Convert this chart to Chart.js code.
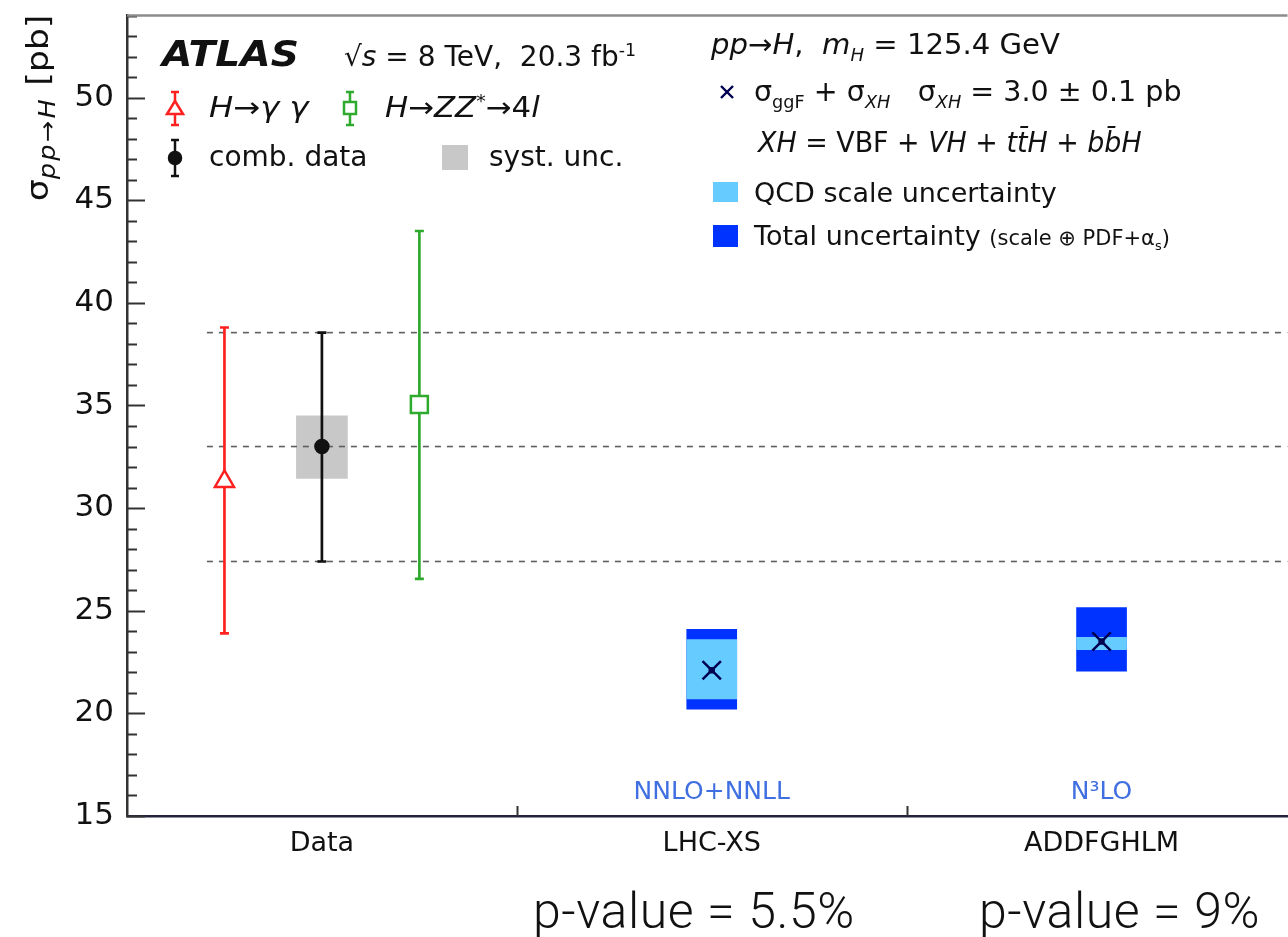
<!DOCTYPE html>
<html>
<head>
<meta charset="utf-8">
<script src="https://cdn.jsdelivr.net/npm/chart.js@4.4.1/dist/chart.umd.min.js"></script>
<style>
  html, body { margin: 0; padding: 0; background: #fff; overflow: hidden; }
  #wrap { position: relative; width: 1288px; height: 937px; overflow: hidden; }
  canvas { position: absolute; left: 0; top: 0; }
  .t { position: absolute; white-space: nowrap; font-family: 'DejaVu Sans', sans-serif; color: #111; line-height: 1; font-size: 28px; transform-origin: 0 50%; }
  .t sub, .t sup { font-size: 62%; line-height: 0; }
  .pv { position: absolute; white-space: nowrap; font-family: Roboto, 'Open Sans', sans-serif; font-weight: 300; font-size: 50px; letter-spacing: 0.6px; line-height: 1; color: #111; }
  #ytitle { position: absolute; left: 37px; top: 108px; transform: translate(-50%, -50%) rotate(-90deg) scaleX(1.12); transform-origin: 50% 50%; font-size: 31px; }
  #ytitle sub { font-size: 74%; letter-spacing: 2px; }
  svg { position: absolute; left: 0; top: 0; }
</style>
</head>
<body>
<div id="wrap">
  <!-- canvas a bit wider than the page: the plot is cut at the right edge, as in the figure -->
  <canvas id="chart" width="1303" height="937"></canvas>

  <!-- legend symbols -->
  <svg width="1288" height="270">
    <g stroke="#ff2020" stroke-width="2.5" fill="#fff">
      <line x1="175" y1="92" x2="175" y2="125"/>
      <line x1="171" y1="92" x2="179" y2="92"/><line x1="171" y1="125" x2="179" y2="125"/>
      <polygon points="175,101 183,114 167,114"/>
    </g>
    <g stroke="#2eaa2e" stroke-width="2.5" fill="#fff">
      <line x1="350" y1="92" x2="350" y2="125"/>
      <line x1="346" y1="92" x2="354" y2="92"/><line x1="346" y1="125" x2="354" y2="125"/>
      <rect x="344" y="102" width="12" height="12"/>
    </g>
    <g stroke="#111" stroke-width="2.5" fill="#111">
      <line x1="175" y1="140" x2="175" y2="176"/>
      <line x1="171" y1="140" x2="179" y2="140"/><line x1="171" y1="176" x2="179" y2="176"/>
      <circle cx="175" cy="158" r="6"/>
    </g>
    <rect x="442" y="145" width="26" height="25" fill="#c8c8c8"/>
    <g stroke="#000050" stroke-width="2.4">
      <line x1="721" y1="86" x2="733" y2="98"/><line x1="733" y1="86" x2="721" y2="98"/>
    </g>
    <rect x="713" y="182" width="25" height="20" fill="#66ccff"/>
    <rect x="713" y="225" width="25" height="22" fill="#0033ff"/>
  </svg>

  <div class="t" id="ytitle">σ<sub><i>pp</i>→<i>H</i></sub> [pb]</div>

  <div class="t" style="left:162px;top:37px;font-size:35px;font-weight:bold;font-style:italic;transform:scaleX(1.12);">ATLAS</div>
  <div class="t" style="left:344px;top:43px;font-size:28px;">√<i>s</i> = 8 TeV,&nbsp; 20.3 fb<sup>-1</sup></div>
  <div class="t" style="left:209px;top:94px;transform:scaleX(1.15);"><i>H</i>→<i>γ</i> <i>γ</i></div>
  <div class="t" style="left:385px;top:94px;transform:scaleX(1.1);"><i>H</i>→<i>ZZ</i><sup>*</sup>→4<i>l</i></div>
  <div class="t" style="left:209px;top:143px;">comb. data</div>
  <div class="t" style="left:489px;top:143px;">syst. unc.</div>

  <div class="t" style="left:711px;top:31px;transform:scaleX(1.04);"><i>pp</i>→<i>H</i>,&nbsp; <i>m<sub>H</sub></i> = 125.4 GeV</div>
  <div class="t" style="left:754px;top:78px;transform:scaleX(1.02);">σ<sub>ggF</sub> + σ<sub><i>XH</i></sub>&nbsp;&nbsp; σ<sub><i>XH</i></sub> = 3.0 ± 0.1 pb</div>
  <div class="t" style="left:758px;top:129px;transform:scaleX(0.96);"><i>XH</i> = VBF + <i>VH</i> + <i>tt̄H</i> + <i>bb̄H</i></div>
  <div class="t" style="left:754px;top:179px;font-size:27px;">QCD scale uncertainty</div>
  <div class="t" style="left:754px;top:222px;font-size:27px;">Total uncertainty <span style="font-size:21px">(scale ⊕ PDF+α<sub>s</sub>)</span></div>

  <div class="pv" style="left:533px;top:886px;">p-value = 5.5%</div>
  <div class="pv" style="left:979px;top:886px;">p-value = 9%</div>
</div>

<script>
// --- data (pb) ---
const categories = ['Data', 'LHC-XS', 'ADDFGHLM'];
const theoryNames = ['NNLO+NNLL', 'N³LO'];

// measurements inside the "Data" bin: H->yy, combined, H->ZZ*->4l
const measX = [0.25, 0.5, 0.75];
const measCentral = [31.3, 33.0, 35.05];
const measHigh = [38.8, 38.55, 43.5];
const measLow = [23.9, 27.4, 26.55];
const measColors = ['#ff2020', '#111111', '#2eaa2e'];
const systRange = [31.45, 34.5];

// predictions: sigma_ggF + sigma_XH
const theoryX = [1.5, 2.5];
const theoryCentral = [22.1, 23.5];
const totalLow = [20.2, 22.05];
const totalHigh = [24.1, 25.15];
const scaleLow = [20.7, 23.1];
const scaleHigh = [23.6, 23.7];

const yMin = 15, yMax = 54;
const xMax = 2.977;      // plot is cut at the right edge of the picture
const dashStart = 0.205;

// --- datasets ---
const datasets = [];

datasets.push({
  type: 'bar', data: [{ x: measX[1], y: systRange }],
  backgroundColor: '#c8c8c8', barThickness: 51, grouped: false, order: 20,
});

[measHigh[1], measCentral[1], measLow[1]].forEach(v => {
  datasets.push({
    type: 'line', data: [{ x: dashStart, y: v }, { x: xMax, y: v }],
    borderColor: '#5e5e5e', borderWidth: 1.6, borderDash: [6, 6],
    pointRadius: 0, order: 15,
  });
});

datasets.push({
  type: 'bar', data: theoryX.map((x, i) => ({ x, y: [totalLow[i], totalHigh[i]] })),
  backgroundColor: '#0033ff', barThickness: 50, grouped: false, order: 12,
});
datasets.push({
  type: 'bar', data: theoryX.map((x, i) => ({ x, y: [scaleLow[i], scaleHigh[i]] })),
  backgroundColor: '#66ccff', barThickness: 50, grouped: false, order: 11,
});

// error bars with end caps
measX.forEach((x, i) => {
  datasets.push({
    type: 'line', data: [{ x, y: measLow[i] }, { x, y: measHigh[i] }],
    borderColor: measColors[i], borderWidth: 2.7,
    pointStyle: 'line', pointRadius: 4.5, pointBorderWidth: 2.7,
    pointBorderColor: measColors[i], order: 5,
  });
});

const markerStyle = [
  { pointStyle: 'triangle', radius: 11, fill: '#fff' },
  { pointStyle: 'circle', radius: 6.5, fill: '#111' },
  { pointStyle: 'rect', radius: 12, fill: '#fff' },
];
measX.forEach((x, i) => {
  datasets.push({
    type: 'scatter', data: [{ x, y: measCentral[i] }],
    pointStyle: markerStyle[i].pointStyle, pointRadius: markerStyle[i].radius,
    pointBackgroundColor: markerStyle[i].fill, pointBorderColor: measColors[i],
    pointBorderWidth: 2.5, order: 2,
  });
});

datasets.push({
  type: 'scatter', data: theoryX.map((x, i) => ({ x, y: theoryCentral[i] })),
  pointStyle: 'crossRot', pointRadius: 13, pointBorderColor: '#000050',
  pointBorderWidth: 2.5, order: 1,
});
datasets.push({
  type: 'scatter', data: theoryX.map((x, i) => ({ x, y: theoryCentral[i] })),
  pointStyle: 'rect', pointRadius: 4.5, pointBackgroundColor: '#000050',
  pointBorderWidth: 0, order: 0,
});

// --- inward ticks, top frame, order labels ---
const rootFrame = {
  id: 'rootFrame',
  afterDraw(chart) {
    const { ctx, chartArea: a, scales: { x, y } } = chart;
    ctx.save();
    ctx.strokeStyle = '#333';
    ctx.lineWidth = 2;
    y.ticks.forEach(t => {
      const py = Math.round(y.getPixelForValue(t.value)) + 0.5;
      const len = t.value % 5 === 0 ? 18 : 10;
      ctx.beginPath(); ctx.moveTo(a.left, py); ctx.lineTo(a.left + len, py); ctx.stroke();
    });
    [1, 2].forEach(v => {
      const px = Math.round(x.getPixelForValue(v)) + 0.5;
      ctx.beginPath(); ctx.moveTo(px, a.bottom); ctx.lineTo(px, a.bottom - 10); ctx.stroke();
    });
    ctx.strokeStyle = '#8c8c8c';
    ctx.lineWidth = 2.5;
    ctx.beginPath(); ctx.moveTo(a.left, a.top); ctx.lineTo(a.right, a.top); ctx.stroke();

    ctx.font = '25px "DejaVu Sans"';
    ctx.fillStyle = '#3f6fe0';
    ctx.textAlign = 'center';
    ctx.textBaseline = 'alphabetic';
    theoryNames.forEach((t, i) => ctx.fillText(t, x.getPixelForValue(theoryX[i]), a.bottom - 17));
    ctx.restore();
  },
};

new Chart(document.getElementById('chart'), {
  type: 'scatter',
  data: { datasets },
  options: {
    responsive: false,
    animation: false,
    events: [],
    layout: { padding: { top: 12, right: 0, left: 0, bottom: 0 } },
    plugins: { legend: { display: false }, tooltip: { enabled: false } },
    scales: {
      x: {
        type: 'linear', min: 0, max: xMax, offset: false,
        afterFit: s => { s.height = 121; s.paddingLeft = 0; s.paddingRight = 0; },
        afterBuildTicks: s => { s.ticks = categories.map((c, i) => ({ value: i + 0.5 })); },
        grid: { display: false },
        border: { display: true, color: '#22223a', width: 2.5 },
        ticks: {
          autoSkip: false, maxRotation: 0, padding: 4, color: '#111',
          font: { family: 'DejaVu Sans', size: 27 },
          callback: v => categories[Math.floor(v)],
        },
      },
      y: {
        type: 'linear', min: yMin, max: yMax,
        afterFit: s => { s.width = 127; s.paddingTop = 0; s.paddingBottom = 0; },
        grid: { display: false },
        border: { display: true, color: '#333', width: 2.5 },
        ticks: {
          stepSize: 1, autoSkip: false, padding: 5, color: '#111',
          font: { family: 'DejaVu Sans', size: 31 },
          callback: v => (v % 5 === 0 ? v : ''),
        },
      },
    },
  },
  plugins: [rootFrame],
});
</script>
</body>
</html>
